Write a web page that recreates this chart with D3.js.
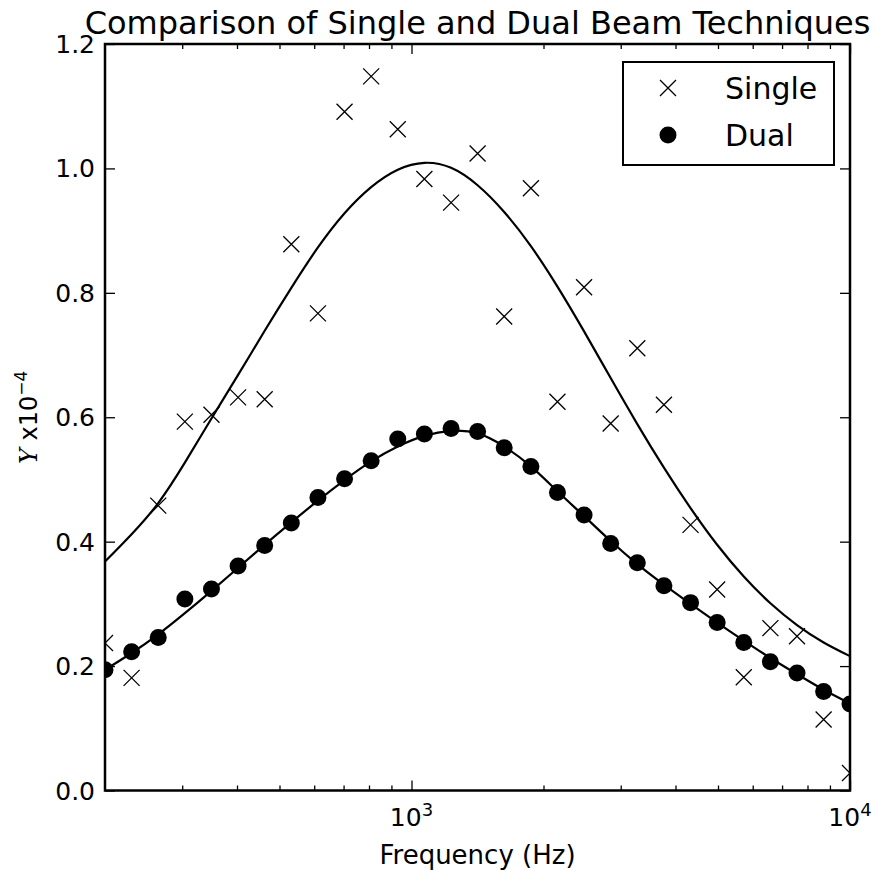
<!DOCTYPE html>
<html>
<head>
<meta charset="utf-8">
<script src="https://cdn.jsdelivr.net/npm/d3@7"></script>
<style>
body { margin: 0; background: #fff; }
svg { display: block; font-family: "DejaVu Sans", sans-serif; }
</style>
</head>
<body>
<svg id="chart" width="876" height="871"></svg>
<script>
// frequencies (Hz), log spaced 200 .. 10000
var freqs = [200, 230, 264.5, 304.2, 349.8, 402.3, 462.6, 532.0, 611.8, 703.6,
	809.1, 930.5, 1070, 1231, 1415, 1627, 1872, 2152, 2475, 2846,
	3273, 3764, 4329, 4978, 5725, 6584, 7571, 8707, 10000];

// measured points
var singleVals = [0.237, 0.181, 0.458, 0.593, 0.604, 0.632, 0.629, 0.878, 0.767, 1.091,
	1.148, 1.063, 0.983, 0.945, 1.024, 0.762, 0.968, 0.625, 0.809, 0.590,
	0.711, 0.620, 0.427, 0.323, 0.182, 0.261, 0.248, 0.114, 0.028];
var dualVals = [0.194, 0.223, 0.246, 0.308, 0.324, 0.361, 0.394, 0.430, 0.471, 0.501,
	0.530, 0.565, 0.573, 0.582, 0.577, 0.551, 0.521, 0.479, 0.443, 0.397,
	0.366, 0.329, 0.302, 0.270, 0.238, 0.207, 0.189, 0.159, 0.139];

// fitted curves, read at the same frequencies
var singleFit = [0.368, 0.412, 0.462, 0.527, 0.598, 0.668, 0.739, 0.808, 0.873, 0.928,
	0.970, 0.998, 1.009, 1.001, 0.973, 0.930, 0.875, 0.810, 0.738, 0.663,
	0.589, 0.519, 0.454, 0.395, 0.344, 0.301, 0.266, 0.238, 0.216];
var dualFit = [0.194, 0.221, 0.251, 0.285, 0.321, 0.358, 0.395, 0.431, 0.466, 0.499,
	0.529, 0.553, 0.570, 0.578, 0.574, 0.553, 0.521, 0.481, 0.441, 0.401,
	0.364, 0.331, 0.300, 0.270, 0.241, 0.213, 0.187, 0.162, 0.140];

var yTicks = [0, 0.2, 0.4, 0.6, 0.8, 1.0, 1.2];
var xMajor = [1000, 10000];
var xMajorLabels = ["3", "4"];
var xMinor = [300, 400, 500, 600, 700, 800, 900, 2000, 3000, 4000, 5000, 6000, 7000, 8000, 9000];

var margin = {top: 44, left: 105},
	width = 745,
	height = 746.5;

var svg = d3.select("#chart");
var g = svg.append("g")
	.attr("transform", "translate(" + margin.left + "," + margin.top + ")");

var xScale = d3.scaleLog().domain([200, 10000]).range([0, width]);
var yScale = d3.scaleLinear().domain([0, 1.2]).range([height, 0]);

g.append("clipPath").attr("id", "plotclip")
	.append("rect").attr("width", width).attr("height", height);

var plot = g.append("g").attr("clip-path", "url(#plotclip)");

var line = d3.line()
	.x(function(d) { return xScale(d[0]); })
	.y(function(d) { return yScale(d[1]); })
	.curve(d3.curveNatural);

plot.append("path")
	.datum(freqs.map(function(f, i) { return [f, singleFit[i]]; }))
	.attr("d", line)
	.attr("fill", "none").attr("stroke", "#000").attr("stroke-width", 2.2);

plot.append("path")
	.datum(freqs.map(function(f, i) { return [f, dualFit[i]]; }))
	.attr("d", line)
	.attr("fill", "none").attr("stroke", "#000").attr("stroke-width", 2.2);

var xr = 8;
function crossPath(cx, cy) {
	return "M" + (cx - xr) + "," + (cy - xr) + "L" + (cx + xr) + "," + (cy + xr) +
		"M" + (cx - xr) + "," + (cy + xr) + "L" + (cx + xr) + "," + (cy - xr);
}

plot.selectAll(".single")
	.data(singleVals)
	.enter().append("path")
	.attr("class", "single")
	.attr("d", function(d, i) { return crossPath(xScale(freqs[i]), yScale(d)); })
	.attr("stroke", "#000").attr("stroke-width", 1.3).attr("fill", "none");

plot.selectAll(".dual")
	.data(dualVals)
	.enter().append("circle")
	.attr("class", "dual")
	.attr("cx", function(d, i) { return xScale(freqs[i]); })
	.attr("cy", function(d) { return yScale(d); })
	.attr("r", 8.5)
	.attr("fill", "#000");

// ticks, all pointing inward
function styleAxis(sel) {
	sel.select(".domain").remove();
	sel.selectAll("text").remove();
	sel.selectAll("line").attr("stroke", "#000").attr("stroke-width", 1.3);
}

g.append("g").attr("transform", "translate(0," + height + ")")
	.call(d3.axisBottom(xScale).tickValues(xMajor).tickSize(-10)).call(styleAxis);
g.append("g").attr("transform", "translate(0," + height + ")")
	.call(d3.axisBottom(xScale).tickValues(xMinor).tickSize(-5)).call(styleAxis);
g.append("g")
	.call(d3.axisTop(xScale).tickValues(xMajor).tickSize(-10)).call(styleAxis);
g.append("g")
	.call(d3.axisTop(xScale).tickValues(xMinor).tickSize(-5)).call(styleAxis);
g.append("g")
	.call(d3.axisLeft(yScale).tickValues(yTicks).tickSize(-10)).call(styleAxis);
g.append("g").attr("transform", "translate(" + width + ",0)")
	.call(d3.axisRight(yScale).tickValues(yTicks).tickSize(-10)).call(styleAxis);

// frame
g.append("rect")
	.attr("width", width).attr("height", height)
	.attr("fill", "none").attr("stroke", "#000").attr("stroke-width", 2.5);

// y tick labels
g.selectAll(".ylab")
	.data(yTicks)
	.enter().append("text")
	.attr("class", "ylab")
	.attr("x", -10)
	.attr("y", function(d) { return yScale(d); })
	.attr("dy", "0.36em")
	.attr("text-anchor", "end")
	.attr("font-size", 25)
	.text(function(d) { return d3.format(".1f")(d); });

// x tick labels 10^n
var xl = g.selectAll(".xlab")
	.data(xMajor)
	.enter().append("text")
	.attr("class", "xlab")
	.attr("x", function(d) { return xScale(d); })
	.attr("y", height + 35)
	.attr("text-anchor", "middle")
	.attr("font-size", 25);
xl.append("tspan").text("10");
xl.append("tspan").attr("dy", -10).attr("font-size", 18)
	.text(function(d, i) { return xMajorLabels[i]; });

// axis labels and title
g.append("text")
	.attr("x", width / 2).attr("y", height + 73)
	.attr("text-anchor", "middle").attr("font-size", 26)
	.text("Frequency (Hz)");

var yl = svg.append("text")
	.attr("transform", "translate(37," + (margin.top + height / 2) + ") rotate(-90)")
	.attr("text-anchor", "middle")
	.attr("font-size", 24);
yl.append("tspan").attr("font-family", "DejaVu Serif").attr("font-style", "italic").text("Y");
yl.append("tspan").text(" x10");
yl.append("tspan").attr("dy", -10).attr("font-size", 17).text("\u22124");

svg.append("text")
	.attr("x", margin.left + width / 2).attr("y", 34)
	.attr("text-anchor", "middle").attr("font-size", 32)
	.text("Comparison of Single and Dual Beam Techniques");

// legend
var leg = svg.append("g").attr("transform", "translate(623,62)");
leg.append("rect").attr("width", 211).attr("height", 103)
	.attr("fill", "#fff").attr("stroke", "#000").attr("stroke-width", 2);
leg.append("path").attr("d", crossPath(45, 26))
	.attr("stroke", "#000").attr("stroke-width", 1.3).attr("fill", "none");
leg.append("circle").attr("cx", 45).attr("cy", 73).attr("r", 8.5).attr("fill", "#000");
leg.append("text").attr("x", 102).attr("y", 37).attr("font-size", 30).text("Single");
leg.append("text").attr("x", 102).attr("y", 84).attr("font-size", 30).text("Dual");
</script>
</body>
</html>
